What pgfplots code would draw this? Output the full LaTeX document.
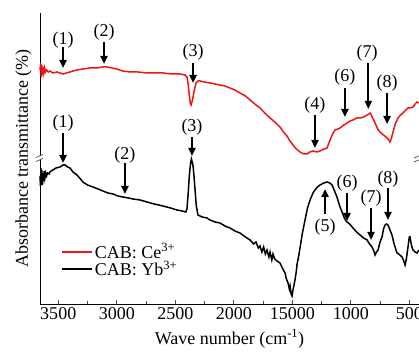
\documentclass[border=0pt]{standalone}
\usepackage{fontspec}
\setmainfont{Liberation Serif}
\usepackage{pgfplots}
\pgfplotsset{compat=1.18}
\usetikzlibrary{arrows.meta}
\definecolor{myred}{RGB}{240,20,20}
\begin{document}
\begin{tikzpicture}[font=\fontsize{18}{21}\selectfont]
\begin{axis}[
 width=379pt, height=291pt, scale only axis,
 x dir=reverse, xmin=417, xmax=3656, ymin=0, ymax=291,
 axis x line*=bottom, axis y line*=left,
 x axis line style={-}, y axis line style={-},
 every axis line/.append style={line width=1pt, black!65},
 xtick={500,1000,1500,2000,2500,3000,3500},
 xticklabels={500,1000,15000,2000,2500,3000,3500},
 minor x tick num=1,
 ytick=\empty,
 xtick align=inside,
 major tick length=4pt, minor tick length=3pt,
 every tick/.append style={black!70, line width=0.8pt},
 /pgf/number format/assume math mode=true,
 xlabel={Wave number (cm\textsuperscript{-1})},
 xlabel style={yshift=-3pt},
 ylabel={Absorbance transmittance (\%)},
 ylabel style={at={(axis description cs:-0.032,0.5)}, anchor=base},
 clip=false,
 legend style={draw=none, fill=none, at={(axis description cs:0.055,0.215)}, anchor=north west, legend cell align=left, row sep=-3pt, inner sep=0pt},
]
\addlegendimage{myred, line width=1.8pt, legend image code/.code={\draw[myred, line width=1.8pt] (0pt,0pt) -- (30pt,0pt);}}
\addlegendentry{CAB: Ce\textsuperscript{3+}}
\addlegendimage{black, line width=1.8pt, legend image code/.code={\draw[black, line width=1.8pt] (0pt,0pt) -- (30pt,0pt);}}
\addlegendentry{CAB: Yb\textsuperscript{3+}}
\addplot[myred, line width=1.5pt, forget plot] coordinates {
(3656,234)(3650,241)(3645,227)(3640,239)(3635,229)(3630,237)(3624,231)(3617,236)(3610,232)(3600,234)(3585,232)(3571,233)(3545,231)(3511,232)(3485,231)(3459,230)(3430,231)(3400,232)(3374,233)(3340,234)(3289,235)(3230,236)(3169,236)(3120,237)(3083,237)(3040,236)(2998,235)(2950,233)(2887,232)(2820,232)(2741,231)(2680,231)(2605,231)(2530,230)(2459,230)(2417,229)(2400,227)(2390,220)(2383,212)(2372,201)(2365,199)(2355,203)(2348,207)(2335,215)(2323,221)(2305,223)(2288,223)(2250,222)(2203,221)(2160,220)(2118,219)(2075,218)(2032,216)(1990,214)(1947,211)(1900,208)(1861,204)(1820,200)(1776,196)(1735,191)(1690,186)(1650,182)(1605,177)(1575,172)(1545,168)(1520,163)(1494,159)(1465,155)(1434,152)(1400,150)(1374,150)(1350,152)(1323,153)(1290,152)(1263,153)(1230,155)(1203,156)(1190,160)(1177,164)(1155,170)(1135,174)(1110,175)(1092,176)(1060,179)(1032,181)(1005,183)(981,184)(950,186)(921,186)(890,187)(861,189)(845,190)(835,191)(818,187)(800,183)(793,181)(770,175)(750,172)(720,169)(690,166)(675,164)(665,162)(652,166)(639,172)(620,180)(596,186)(575,189)(554,191)(530,194)(511,196)(490,196)(468,197)(450,200)(434,202)(417,201)
};
\addplot[black, line width=1.5pt, forget plot] coordinates {
(3656,128)(3652,118)(3648,136)(3644,121)(3640,134)(3635,119)(3630,131)(3625,123)(3620,133)(3614,126)(3607,131)(3600,128)(3590,131)(3578,130)(3571,132)(3560,133)(3545,134)(3520,136)(3485,137)(3459,139)(3442,139)(3420,137)(3400,136)(3374,132)(3340,129)(3310,125)(3289,122)(3250,119)(3203,117)(3160,115)(3118,113)(3075,111)(3032,110)(2990,108)(2947,107)(2900,106)(2861,105)(2800,104)(2741,102)(2680,100)(2605,98)(2540,96)(2485,94)(2440,93)(2410,92)(2400,95)(2390,110)(2380,128)(2370,140)(2362,145)(2355,142)(2348,138)(2340,128)(2331,114)(2320,98)(2306,89)(2270,87)(2229,86)(2203,84)(2160,82)(2118,81)(2075,78)(2032,76)(1990,73)(1947,71)(1900,67)(1861,64)(1830,60)(1810,62)(1790,56)(1776,58)(1760,52)(1745,57)(1730,50)(1716,54)(1700,47)(1690,52)(1675,44)(1665,50)(1650,45)(1630,43)(1605,41)(1585,36)(1562,31)(1550,25)(1536,21)(1525,15)(1519,18)(1510,10)(1502,8)(1494,14)(1485,19)(1477,24)(1465,33)(1459,40)(1445,48)(1434,56)(1415,70)(1391,84)(1370,96)(1348,104)(1323,111)(1306,114)(1285,117)(1263,119)(1230,121)(1203,122)(1180,121)(1160,119)(1135,112)(1118,107)(1095,98)(1075,92)(1055,86)(1040,83)(1032,82)(1010,80)(981,76)(950,72)(921,69)(890,66)(861,64)(840,60)(818,57)(800,52)(793,49)(775,53)(767,54)(750,62)(733,67)(720,75)(707,79)(695,80)(682,79)(665,74)(648,69)(630,60)(605,51)(590,50)(562,47)(550,44)(536,39)(525,45)(511,57)(500,67)(494,67)(480,58)(468,54)(450,52)(434,51)(417,54)
};
% annotations (red)
\tikzset{arr/.style={line width=2pt, -{Triangle[length=8pt,width=7pt]}}}
\node at (3459,264) {(1)}; \draw[arr] (3459,257) -- (3459,236);
\node at (3109,272) {(2)}; \draw[arr] (3109,262) -- (3109,240);
\node at (2348,252) {(3)}; \draw[arr] (2348,241) -- (2348,221);
\node at (1306,199) {(4)}; \draw[arr] (1306,189) -- (1306,156);
\node at (1050,227) {(6)}; \draw[arr] (1050,216) -- (1050,187);
\node at (861,251)  {(7)}; \draw[arr] (850,241) -- (850,195);
\node at (690,221)  {(8)}; \draw[arr] (690,211) -- (690,180);
% annotations (black)
\node at (3459,181) {(1)}; \draw[arr] (3459,171) -- (3459,141);
\node at (2930,149) {(2)}; \draw[arr] (2930,141) -- (2930,110);
\node at (2357,177) {(3)}; \draw[arr] (2357,167) -- (2357,148);
\node at (1220,77)  {(5)}; \draw[arr] (1220,90) -- (1220,115);
\node at (1032,121) {(6)}; \draw[arr] (1032,111) -- (1032,83);
\node at (827,106)  {(7)}; \draw[arr] (827,96) -- (827,64);
\node at (682,125)  {(8)}; \draw[arr] (682,116) -- (682,84);
% axis break marks
\fill[white] ([xshift=-2pt,yshift=-2pt]axis cs:3656,147) rectangle ([xshift=2pt,yshift=2pt]axis cs:3656,147);
\draw[black!70, line width=0.7pt] ([xshift=-4pt,yshift=-4.5pt]axis cs:3656,147) -- ++(7pt,3pt);
\draw[black!70, line width=0.7pt] ([xshift=-4pt,yshift=-0.5pt]axis cs:3656,147) -- ++(7pt,3pt);
\draw[black!70, line width=0.7pt] ([xshift=-3pt,yshift=-4pt]axis cs:434,146) -- ++(6pt,2.5pt);
\draw[black!70, line width=0.7pt] ([xshift=-3pt,yshift=0pt]axis cs:434,146) -- ++(6pt,2.5pt);
\end{axis}
\pgfresetboundingbox
\path (-40pt,-48pt) rectangle (379pt,304pt);
\end{tikzpicture}
\end{document}
